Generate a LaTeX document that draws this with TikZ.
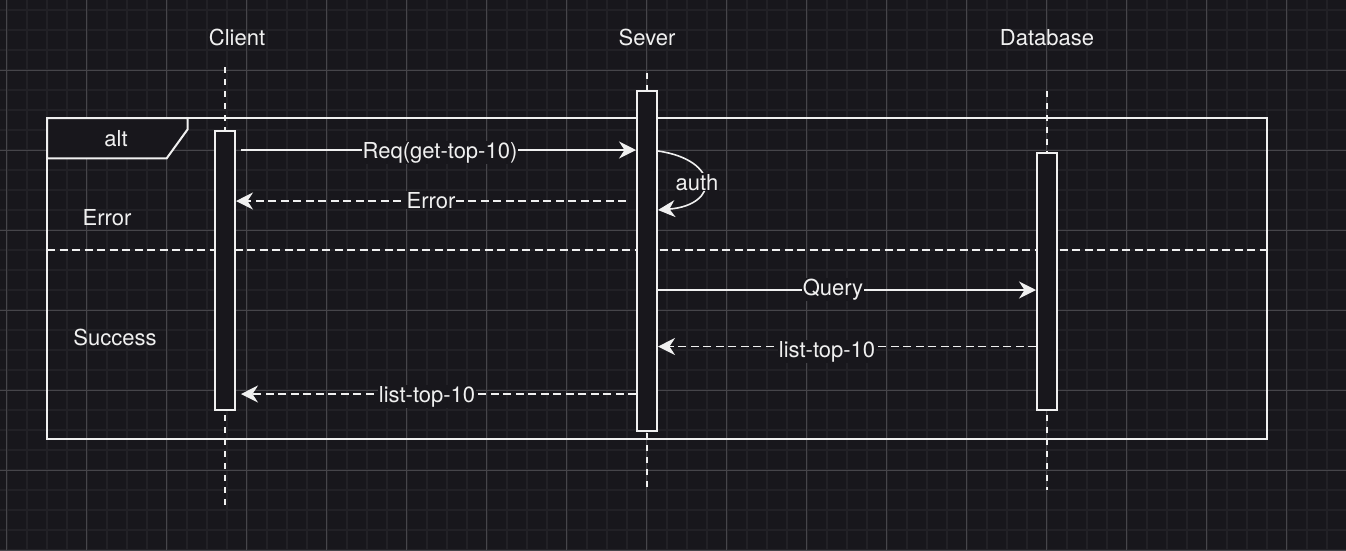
\documentclass[tikz,border=0pt]{standalone}
\usepackage{fontspec}
\setmainfont{TeX Gyre Heros}
\usetikzlibrary{arrows.meta,calc}
\definecolor{bgc}{HTML}{18171C}
\definecolor{gridminor}{HTML}{222126}
\definecolor{gridmajor}{HTML}{46454A}
\definecolor{ink}{HTML}{F0F0F0}
\tikzset{
  lbl/.style={text=ink, font=\fontsize{22}{26}\selectfont, inner sep=0pt, anchor=base},
  msglbl/.style={lbl, fill=bgc, inner xsep=1pt, inner ysep=1pt},
  actbox/.style={draw=ink, line width=2pt, fill=bgc, minimum width=20pt, inner sep=0pt},
  lifeline/.style={draw=ink, line width=2pt, dash pattern=on 6pt off 6pt},
  msg/.style={draw=ink, line width=1.6pt, -{Stealth[length=17pt,width=17pt,inset=5.5pt]}},
  reply/.style={msg, dash pattern=on 8pt off 4.5pt},
  frameline/.style={draw=ink, line width=2pt},
}
\begin{document}
\begin{tikzpicture}[x=1pt,y=-1pt]
\fill[bgc] (0,0) rectangle (1346,550);
\useasboundingbox (0,0) rectangle (1346,550);
% grid
\foreach \i in {0,...,67} \draw[gridminor, line width=2pt] ({6.67+20*\i},0) -- ({6.67+20*\i},550);
\foreach \j in {0,...,27} \draw[gridminor, line width=2pt] (0,{10+20*\j}) -- (1346,{10+20*\j});
\foreach \i in {0,...,16} \draw[gridmajor, line width=1pt] ({6.67+80*\i},0) -- ({6.67+80*\i},550);
\foreach \j in {1,...,7} \draw[gridmajor, line width=1pt] (0,{-10+80*\j}) -- (1346,{-10+80*\j});

% participants
\node[lbl] (client) at (237,45) {Client};
\node[lbl] (server) at (647,45) {Sever};
\node[lbl] (db) at (1047,45) {Database};

% lifeline ends
\coordinate (cTop) at (224.5,67);
\coordinate (cBot) at (224.5,510);
\coordinate (sTop) at (647,73);
\coordinate (sBot) at (647,490);
\coordinate (dTop) at (1046.5,91);
\coordinate (dBot) at (1046.5,490);
\draw[lifeline] (cTop) -- (cBot);
\draw[lifeline] (sTop) -- (sBot);
\draw[lifeline] (dTop) -- (dBot);

% alt frame
\draw[frameline] (47,118) rectangle (1267,438.5);
\draw[frameline, fill=bgc] (47,118) -- (187.5,118) -- (187.5,129.5) -- (166.7,158.3) -- (47,158.3) -- cycle;
\node[lbl] (alt) at (116,146.5) {alt};
\draw[draw=ink, line width=1.6pt, dash pattern=on 8pt off 4.5pt] (47,250) -- (1267,250);
\node[lbl] (errlbl) at (107,225) {Error};
\node[lbl] (sucl) at (115,345) {Success};

% activation boxes
\node[actbox, minimum height=279pt] (cact) at (225,270.5) {};
\node[actbox, minimum height=340pt] (sact) at (647,261) {};
\node[actbox, minimum height=257pt] (dact) at (1047,281.5) {};

% messages
\draw[msg] ([xshift=5pt]cact.east |- 0,150) -- (sact.west |- 0,150);
\node[msglbl] (reqL) at (440,158) {Req(get-top-10)};

\draw[reply] ([xshift=-10pt]sact.west |- 0,201) -- (cact.east |- 0,201);
\node[msglbl] (errL) at (431,208) {Error};

\coordinate (authA) at (sact.east |- 0,151);
\coordinate (authB) at (sact.east |- 0,210);
\draw[msg] (authA) .. controls (720,160) and (720,205) .. (authB);
\node[msglbl] (authL) at (697,190) {auth};

\draw[msg] (sact.east |- 0,290) -- (dact.west |- 0,290);
\node[msglbl] (qL) at (833,295) {Query};

\draw[reply] (dact.west |- 0,346.5) -- (sact.east |- 0,346.5);
\node[msglbl] (l1L) at (827,357) {list-top-10};

\draw[reply] (sact.west |- 0,394) -- ([xshift=5pt]cact.east |- 0,394);
\node[msglbl] (l2L) at (427,402) {list-top-10};
\end{tikzpicture}
\end{document}
